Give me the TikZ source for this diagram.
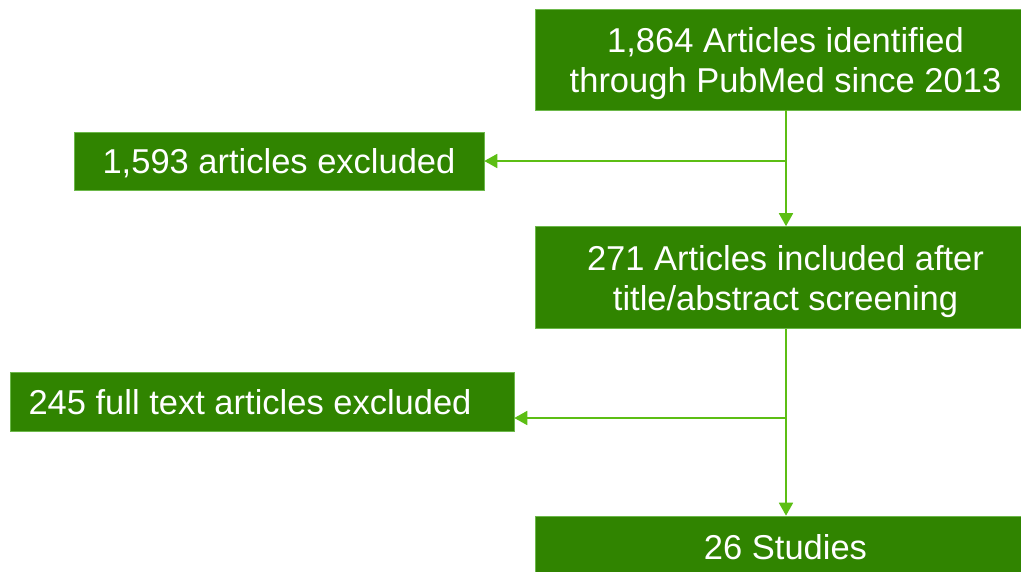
\documentclass[tikz,border=0pt]{standalone}
\usepackage{fontspec}
\setmainfont{Liberation Sans}
\usetikzlibrary{arrows.meta,calc}
\definecolor{boxgreen}{HTML}{308400}
\definecolor{linegreen}{HTML}{5CBE14}
\definecolor{edgegreen}{HTML}{6CB84A}
\tikzset{
  box/.style={rectangle, fill=boxgreen, draw=edgegreen, line width=0.6pt, text=white, align=center,
    inner sep=0pt, text depth=0pt, font=\fontsize{34.5}{40}\selectfont},
  arr/.style={draw=linegreen, line width=1.8pt, -{Triangle[width=14pt,length=13pt]}}
}
\begin{document}
\begin{tikzpicture}[x=1pt,y=-1pt]
\useasboundingbox (0,0) rectangle (1021,571);
\node[box, minimum width=501pt, minimum height=101pt] (b1) at (785.5,59.5) {1,864 Articles identified\\through PubMed since 2013};
\node[box, minimum width=410pt, minimum height=58pt] (b2) at (279,161) {1,593 articles excluded};
\node[box, minimum width=501pt, minimum height=102pt] (b3) at (785.5,277.5) {271 Articles included after\\title/abstract screening};
\node[box, minimum width=504pt, minimum height=59pt] (b4) at (262,401.5) {\hspace*{-24pt}245 full text articles excluded};
\node[box, minimum width=501pt, minimum height=62pt] (b5) at (785.5,547) {26 Studies};
\coordinate (j1) at (786,161);
\coordinate (j2) at (786,418);
\draw[arr] (b1.south -| j1) -- (b3.north -| j1);
\draw[arr] (j1) -- (b2.east |- j1);
\draw[arr] (b3.south -| j2) -- (b5.north -| j2);
\draw[arr] (j2) -- (b4.east |- j2);
\end{tikzpicture}
\end{document}
